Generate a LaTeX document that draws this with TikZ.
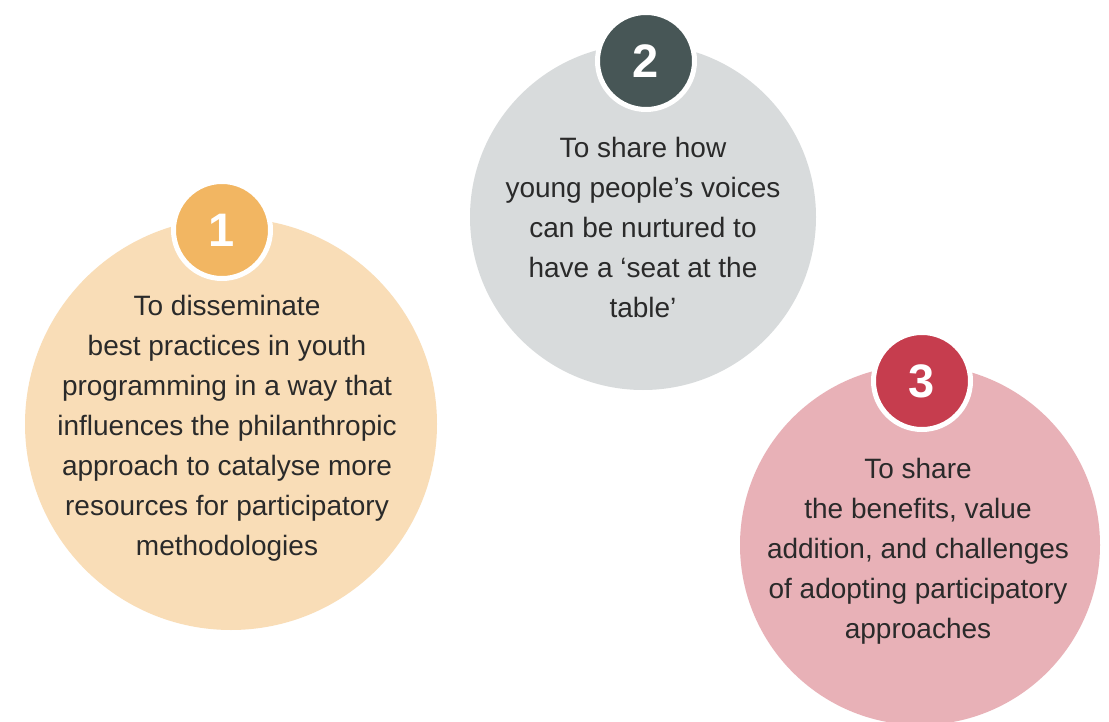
\documentclass[tikz,border=0pt]{standalone}
\usepackage{fontspec}
\setmainfont{Liberation Sans}
\usepackage{xcolor}
\definecolor{obink}{HTML}{2A2A2A}
\definecolor{obsand}{HTML}{F9DDB7}
\definecolor{obamber}{HTML}{F2B662}
\definecolor{obmist}{HTML}{D8DBDC}
\definecolor{obslate}{HTML}{475656}
\definecolor{obrose}{HTML}{E8B1B7}
\definecolor{obcrimson}{HTML}{C63D4E}
\usepackage{tikz}
\tikzset{
  obdisc/.style ={circle, inner sep=0pt, minimum size=#1},
  obbadge/.style={circle, inner sep=0pt, minimum size=97pt, draw=white,
                  line width=5pt, text=white,
                  font=\fontsize{47}{47}\selectfont\bfseries},
  obtext/.style ={align=center, text=obink, inner sep=0pt,
                  font=\fontsize{28}{40}\selectfont},
}

\begin{document}
\begin{tikzpicture}[x=1pt,y=-1pt]
  \clip (0,0) rectangle (1109,722);
  \fill[white] (0,0) rectangle (1109,722);
  % objective 1
  \node[obdisc=412pt, fill=obsand] (c1) at (231,424) {};
  \node[obbadge, fill=obamber] (b1) at (222,230) {1};
  \node[obtext] (t1) at (227,428) {To disseminate\\best practices in youth\\programming in a way that\\influences the philanthropic\\approach to catalyse more\\resources for participatory\\methodologies};
  % objective 2
  \node[obdisc=346pt, fill=obmist] (c2) at (643,217) {};
  \node[obbadge, fill=obslate] (b2) at (646,61) {2};
  \node[obtext] (t2) at (643,227) {To share how\\young people’s voices\\can be nurtured to\\have a ‘seat at the\\table’};
  % objective 3
  \node[obdisc=360pt, fill=obrose] (c3) at (920,545) {};
  \node[obbadge, fill=obcrimson] (b3) at (922,381) {3};
  \node[obtext] (t3) at (918,551) {To share\\the benefits, value\\addition, and challenges\\of adopting participatory\\approaches};
\end{tikzpicture}
\end{document}
